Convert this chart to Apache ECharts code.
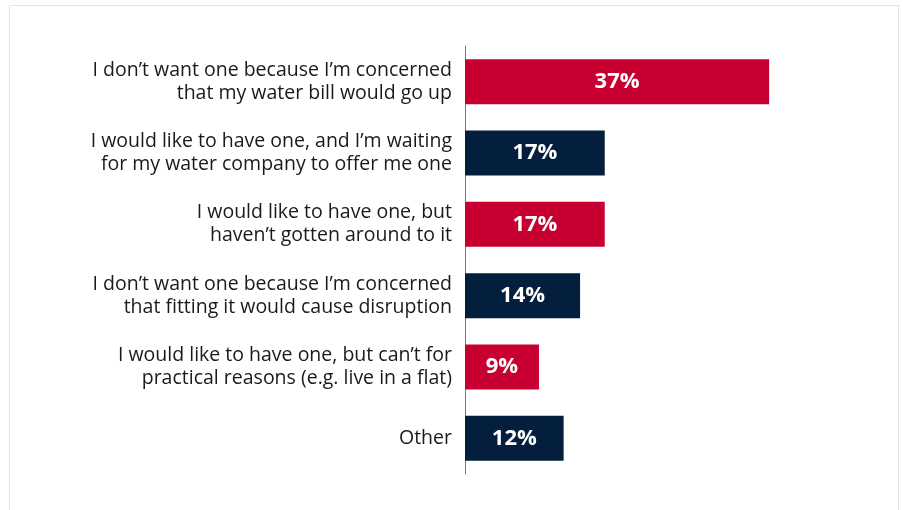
<!DOCTYPE html>
<html>
<head>
<meta charset="utf-8">
<script src="https://cdn.jsdelivr.net/npm/echarts@6/dist/echarts.min.js"></script>
<style>
  html, body { margin: 0; padding: 0; background: #fff; }
  #chart { width: 903px; height: 510px; }
</style>
</head>
<body>
<div id="chart"></div>
<script>
// 类别（从上到下）
const categories = [
  "I don\u2019t want one because I\u2019m concerned\nthat my water bill would go up",
  "I would like to have one, and I\u2019m waiting\nfor my water company to offer me one",
  "I would like to have one, but\nhaven\u2019t gotten around to it",
  "I don\u2019t want one because I\u2019m concerned\nthat fitting it would cause disruption",
  "I would like to have one, but can\u2019t for\npractical reasons (e.g. live in a flat)",
  "Other"
];
// 百分比
const values = [37, 17, 17, 14, 9, 12];

const RED = "#c80032";
const NAVY = "#031f3d";
const barColors = [RED, NAVY, RED, NAVY, RED, NAVY];

const mChart = echarts.init(document.getElementById("chart"));

const option = {
  animation: false,
  // 外框
  graphic: [{
    type: "rect",
    silent: true,
    shape: { x: 9.5, y: 5.5, width: 889, height: 530 },
    style: { fill: "none", stroke: "#dbe5ea", lineWidth: 1 }
  }],
  grid: {
    left: 465,
    right: 27,
    top: 46,
    height: 428
  },
  xAxis: {
    type: "value",
    min: 0,
    max: 50,
    show: false
  },
  yAxis: {
    type: "category",
    inverse: true,
    data: categories,
    axisLine: { show: true, lineStyle: { color: "#7a7a7a", width: 1 } },
    axisTick: { show: false },
    axisLabel: {
      color: "#1a1a1a",
      fontFamily: "Open Sans",
      fontSize: 19.5,
      lineHeight: 23,
      margin: 13,
      align: "right"
    }
  },
  series: [{
    type: "bar",
    barWidth: 45,
    data: values.map((v, i) => ({
      value: v,
      itemStyle: { color: barColors[i] }
    })),
    label: {
      show: true,
      position: "inside",
      formatter: "{c}%",
      color: "#fff",
      fontFamily: "Open Sans",
      fontWeight: "bold",
      fontSize: 22
    }
  }]
};

mChart.setOption(option);
</script>
</body>
</html>
